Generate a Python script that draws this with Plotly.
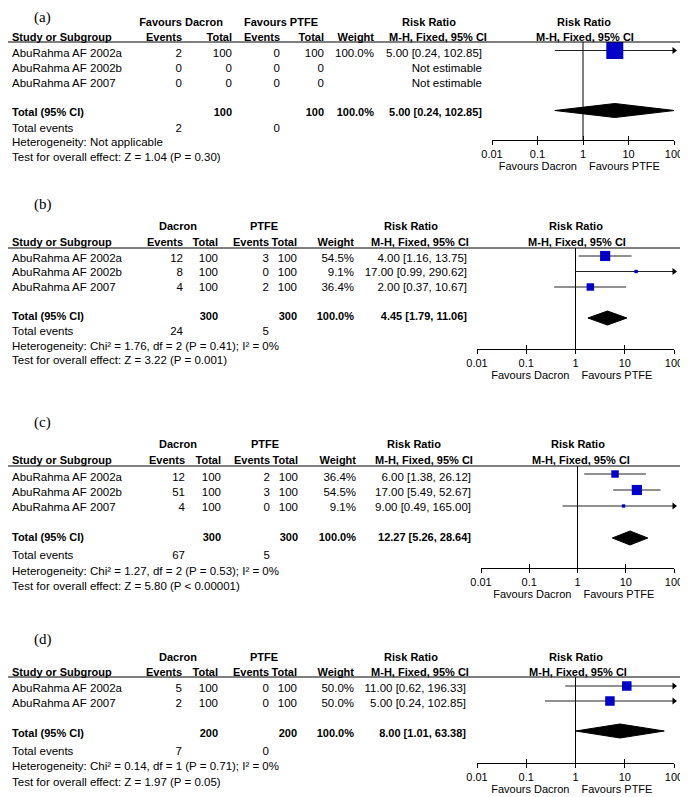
import plotly.graph_objects as go

W, H = 688, 797          # browser window
OFF = 8                  # default page (body) margin the figure sits inside
FW, FH = W - OFF, H - OFF
FONT = "Liberation Sans, Arial, sans-serif"
SERIF = "Liberation Serif, Times New Roman, serif"
FS = 11.5    # regular text
FSB = 11     # bold header text
FST = 11     # axis tick labels / favours labels

# ---------------- data ----------------
tick_vals = [0.01, 0.1, 1, 10, 100]
tick_text = ["0.01", "0.1", "1", "10", "100"]
favours_left = "Favours Dacron"
favours_right = "Favours PTFE"

# (a)
groups_a = ["Favours Dacron", "Favours PTFE"]
studies_a = ["AbuRahma AF 2002a", "AbuRahma AF 2002b", "AbuRahma AF 2007"]
dacron_events_a = [2, 0, 0]
dacron_total_a = [100, 0, 0]
ptfe_events_a = [0, 0, 0]
ptfe_total_a = [100, 0, 0]
weight_a = [100.0, None, None]
rr_a = [5.00, None, None]
rr_low_a = [0.24, None, None]
rr_high_a = [102.85, None, None]
totals_a = [100, 100]
total_events_a = [2, 0]
pooled_a = [5.00, 0.24, 102.85]
heterogeneity_a = "Heterogeneity: Not applicable"
overall_a = "Test for overall effect: Z = 1.04 (P = 0.30)"

# (b)
groups_b = ["Dacron", "PTFE"]
studies_b = ["AbuRahma AF 2002a", "AbuRahma AF 2002b", "AbuRahma AF 2007"]
dacron_events_b = [12, 8, 4]
dacron_total_b = [100, 100, 100]
ptfe_events_b = [3, 0, 2]
ptfe_total_b = [100, 100, 100]
weight_b = [54.5, 9.1, 36.4]
rr_b = [4.00, 17.00, 2.00]
rr_low_b = [1.16, 0.99, 0.37]
rr_high_b = [13.75, 290.62, 10.67]
totals_b = [300, 300]
total_events_b = [24, 5]
pooled_b = [4.45, 1.79, 11.06]
heterogeneity_b = "Heterogeneity: Chi² = 1.76, df = 2 (P = 0.41); I² = 0%"
overall_b = "Test for overall effect: Z = 3.22 (P = 0.001)"

# (c)
groups_c = ["Dacron", "PTFE"]
studies_c = ["AbuRahma AF 2002a", "AbuRahma AF 2002b", "AbuRahma AF 2007"]
dacron_events_c = [12, 51, 4]
dacron_total_c = [100, 100, 100]
ptfe_events_c = [2, 3, 0]
ptfe_total_c = [100, 100, 100]
weight_c = [36.4, 54.5, 9.1]
rr_c = [6.00, 17.00, 9.00]
rr_low_c = [1.38, 5.49, 0.49]
rr_high_c = [26.12, 52.67, 165.00]
totals_c = [300, 300]
total_events_c = [67, 5]
pooled_c = [12.27, 5.26, 28.64]
heterogeneity_c = "Heterogeneity: Chi² = 1.27, df = 2 (P = 0.53); I² = 0%"
overall_c = "Test for overall effect: Z = 5.80 (P < 0.00001)"

# (d)
groups_d = ["Dacron", "PTFE"]
studies_d = ["AbuRahma AF 2002a", "AbuRahma AF 2007"]
dacron_events_d = [5, 2]
dacron_total_d = [100, 100]
ptfe_events_d = [0, 0]
ptfe_total_d = [100, 100]
weight_d = [50.0, 50.0]
rr_d = [11.00, 5.00]
rr_low_d = [0.62, 0.24]
rr_high_d = [196.33, 102.85]
totals_d = [200, 200]
total_events_d = [7, 0]
pooled_d = [8.00, 1.01, 63.38]
heterogeneity_d = "Heterogeneity: Chi² = 0.14, df = 1 (P = 0.71); I² = 0%"
overall_d = "Test for overall effect: Z = 1.97 (P = 0.05)"

panels = [
    dict(label="(a)", groups=groups_a, studies=studies_a, ev1=dacron_events_a, n1=dacron_total_a,
         ev2=ptfe_events_a, n2=ptfe_total_a, weight=weight_a, rr=rr_a, lo=rr_low_a, hi=rr_high_a,
         totals=totals_a, tevents=total_events_a, pooled=pooled_a, het=heterogeneity_a, test=overall_a),
    dict(label="(b)", groups=groups_b, studies=studies_b, ev1=dacron_events_b, n1=dacron_total_b,
         ev2=ptfe_events_b, n2=ptfe_total_b, weight=weight_b, rr=rr_b, lo=rr_low_b, hi=rr_high_b,
         totals=totals_b, tevents=total_events_b, pooled=pooled_b, het=heterogeneity_b, test=overall_b),
    dict(label="(c)", groups=groups_c, studies=studies_c, ev1=dacron_events_c, n1=dacron_total_c,
         ev2=ptfe_events_c, n2=ptfe_total_c, weight=weight_c, rr=rr_c, lo=rr_low_c, hi=rr_high_c,
         totals=totals_c, tevents=total_events_c, pooled=pooled_c, het=heterogeneity_c, test=overall_c),
    dict(label="(d)", groups=groups_d, studies=studies_d, ev1=dacron_events_d, n1=dacron_total_d,
         ev2=ptfe_events_d, n2=ptfe_total_d, weight=weight_d, rr=rr_d, lo=rr_low_d, hi=rr_high_d,
         totals=totals_d, tevents=total_events_d, pooled=pooled_d, het=heterogeneity_d, test=overall_d),
]

# ---------------- layout geometry (window pixels) ----------------
geom = [
    dict(label_y=18, hdr1=23, hdr2=38, line=42, rows=[54, 69, 84], total=113, events=129, het=143, test=158,
         mark0=50.5, step=15.0, ax_x=(492, 674), ax_y=140,
         cols=[182, 232, 280, 324, 374, 482], grp=[181, 281], rr=429, mh=438, frr=584, fmh=585),
    dict(label_y=205, hdr1=227, hdr2=243, line=248, rows=[259, 273, 288], total=317, events=332, het=347, test=361,
         mark0=256, step=15.5, ax_x=(477, 674), ax_y=349,
         cols=[183, 218, 269, 297, 354, 467], grp=[178, 264], rr=411, mh=420, frr=576, fmh=577),
    dict(label_y=423, hdr1=445, hdr2=461, line=466, rows=[478, 493, 508], total=538, events=556, het=572, test=587,
         mark0=474, step=16.0, ax_x=(481, 674), ax_y=568,
         cols=[185, 221, 270, 298, 356, 471], grp=[178, 265], rr=414, mh=424, frr=578, fmh=581),
    dict(label_y=640, hdr1=658, hdr2=673, line=677, rows=[689, 704], total=734, events=752, het=767, test=783,
         mark0=686, step=15.0, ax_x=(477, 674), ax_y=763,
         cols=[182, 218, 269, 297, 354, 466], grp=[178, 264], rr=411, mh=420, frr=576, fmh=578),
]

LEFT_X = 12
LABEL_X = 34
SQUARE_COLOR = "#0000C8"
CI_COLOR = "#222222"

fig = go.Figure()
shapes = []
axes = {}
texts = {}   # (position, size, family) -> [xs, ys, strings]


def px(x):
    return (x - OFF) / FW


def py(y):
    return 1 - (y - OFF) / FH


POS = {"left": "middle right", "right": "middle left", "center": "middle center"}


def txt(x, y, s, anchor="left", bold=False, size=None, family=FONT):
    if size is None:
        size = FSB if bold else FS
    if bold:
        s = f"<b>{s}</b>"
    key = (POS[anchor], size, family)
    bucket = texts.setdefault(key, [[], [], []])
    bucket[0].append(x)
    bucket[1].append(y)
    bucket[2].append(s)


def fmt_est(r, lo, hi):
    return f"{r:.2f} [{lo:.2f}, {hi:.2f}]"


for k, (p, g) in enumerate(zip(panels, geom), start=1):
    c = g["cols"]
    # panel label
    txt(LABEL_X, g["label_y"], p["label"], size=15, family=SERIF)
    # header row 1
    txt(g["grp"][0], g["hdr1"], p["groups"][0], anchor="center", bold=True)
    txt(g["grp"][1], g["hdr1"], p["groups"][1], anchor="center", bold=True)
    txt(g["rr"], g["hdr1"], "Risk Ratio", anchor="center", bold=True)
    txt(g["frr"], g["hdr1"], "Risk Ratio", anchor="center", bold=True)
    # header row 2
    txt(LEFT_X, g["hdr2"], "Study or Subgroup", bold=True)
    txt(c[0], g["hdr2"], "Events", anchor="right", bold=True)
    txt(c[1], g["hdr2"], "Total", anchor="right", bold=True)
    txt(c[2], g["hdr2"], "Events", anchor="right", bold=True)
    txt(c[3], g["hdr2"], "Total", anchor="right", bold=True)
    txt(c[4], g["hdr2"], "Weight", anchor="right", bold=True)
    txt(g["mh"], g["hdr2"], "M-H, Fixed, 95% CI", anchor="center", bold=True)
    txt(g["fmh"], g["hdr2"], "M-H, Fixed, 95% CI", anchor="center", bold=True)
    shapes.append(dict(type="line", xref="paper", yref="paper", x0=px(4), x1=1,
                       y0=py(g["line"]), y1=py(g["line"]), line=dict(color="black", width=1)))

    # study rows
    for i, s in enumerate(p["studies"]):
        y = g["rows"][i]
        txt(LEFT_X, y, s)
        txt(c[0], y, str(p["ev1"][i]), anchor="right")
        txt(c[1], y, str(p["n1"][i]), anchor="right")
        txt(c[2], y, str(p["ev2"][i]), anchor="right")
        txt(c[3], y, str(p["n2"][i]), anchor="right")
        if p["weight"][i] is not None:
            txt(c[4], y, f"{p['weight'][i]:.1f}%", anchor="right")
            txt(c[5], y, fmt_est(p["rr"][i], p["lo"][i], p["hi"][i]), anchor="right")
        else:
            txt(c[5], y, "Not estimable", anchor="right")

    # total rows
    wsum = sum(w for w in p["weight"] if w is not None)
    txt(LEFT_X, g["total"], "Total (95% CI)", bold=True)
    txt(c[1], g["total"], str(p["totals"][0]), anchor="right", bold=True)
    txt(c[3], g["total"], str(p["totals"][1]), anchor="right", bold=True)
    txt(c[4], g["total"], f"{wsum:.1f}%", anchor="right", bold=True)
    txt(c[5], g["total"], fmt_est(*p["pooled"]), anchor="right", bold=True)
    txt(LEFT_X, g["events"], "Total events")
    txt(c[0], g["events"], str(p["tevents"][0]), anchor="right")
    txt(c[2], g["events"], str(p["tevents"][1]), anchor="right")
    txt(LEFT_X, g["het"], p["het"])
    txt(LEFT_X, g["test"], p["test"])

    # favours labels either side of the line of no effect
    x_one = (g["ax_x"][0] + g["ax_x"][1]) / 2
    txt(x_one - 6, g["ax_y"] + 27, favours_left, anchor="right", size=FST)
    txt(x_one + 6, g["ax_y"] + 27, favours_right, anchor="left", size=FST)

    # ---------- forest plot axes ----------
    xa, ya = f"x{k}", f"y{k}"
    xo = f"x{k + 4}"
    top_row = (g["line"] - g["mark0"]) / g["step"]
    bot_row = (g["ax_y"] - g["mark0"]) / g["step"]
    dom_x = [px(g["ax_x"][0]), px(g["ax_x"][1])]
    axes[f"xaxis{k}"] = dict(domain=dom_x, type="log", range=[-2, 2], anchor=ya, showline=True,
                             linecolor="black", linewidth=1, ticks="outside", ticklen=4, tickwidth=1,
                             tickcolor="black", tickvals=tick_vals, ticktext=tick_text,
                             tickfont=dict(size=FST, family=FONT, color="black"), automargin=False,
                             showgrid=False, zeroline=False, fixedrange=True)
    axes[f"xaxis{k + 4}"] = dict(domain=dom_x, type="log", range=[-2, 2], anchor=ya, overlaying=xa,
                                 showline=False, ticks="inside", ticklen=4, tickwidth=1, tickcolor="black",
                                 tickvals=tick_vals, showticklabels=False, showgrid=False, automargin=False,
                                 zeroline=False, fixedrange=True)
    axes[f"yaxis{k}"] = dict(domain=[py(g["ax_y"]), py(g["line"])], range=[bot_row, top_row],
                             visible=False, fixedrange=True, automargin=False)
    cap = 10 ** 2

    fig.add_trace(go.Scatter(x=[1], y=[0], xaxis=xo, yaxis=ya, mode="markers",
                             marker=dict(opacity=0), hoverinfo="skip", showlegend=False))
    # line of no effect
    fig.add_trace(go.Scatter(x=[1, 1], y=[top_row, bot_row], xaxis=xa, yaxis=ya, mode="lines",
                             line=dict(color="black", width=1), hoverinfo="skip", showlegend=False))
    for i in range(len(p["studies"])):
        if p["rr"][i] is None:
            continue
        lo, hi, r = p["lo"][i], p["hi"][i], p["rr"][i]
        fig.add_trace(go.Scatter(x=[lo, min(hi, cap)], y=[i, i], xaxis=xa, yaxis=ya, mode="lines",
                                 line=dict(color=CI_COLOR, width=1), hoverinfo="skip", showlegend=False))
        if hi > cap:
            fig.add_trace(go.Scatter(x=[cap], y=[i], xaxis=xa, yaxis=ya, mode="markers", cliponaxis=False,
                                     marker=dict(symbol="triangle-right", size=6, color="black"),
                                     hoverinfo="skip", showlegend=False))
        fig.add_trace(go.Scatter(x=[r], y=[i], xaxis=xa, yaxis=ya, mode="markers",
                                 marker=dict(symbol="square", size=2 + 15 * p["weight"][i] / 100,
                                             color=SQUARE_COLOR, line=dict(width=0)),
                                 hoverinfo="skip", showlegend=False))
    # pooled diamond
    tr = len(p["studies"]) + 1
    hh = 7 / g["step"]
    pr, plo, phi = p["pooled"]
    fig.add_trace(go.Scatter(x=[plo, pr, phi, pr, plo], y=[tr, tr - hh, tr, tr + hh, tr],
                             xaxis=xa, yaxis=ya, mode="lines", fill="toself", fillcolor="black",
                             line=dict(color="black", width=1), hoverinfo="skip", showlegend=False))

# ---------- text layer: a full-page canvas axis in window pixels ----------
axes["xaxis9"] = dict(domain=[0, 1], range=[OFF, OFF + FW], anchor="y9", visible=False,
                      fixedrange=True, automargin=False)
axes["yaxis9"] = dict(domain=[0, 1], range=[OFF + FH, OFF], anchor="x9", visible=False,
                      fixedrange=True, automargin=False)
for (pos, size, family), (xs, ys, ss) in texts.items():
    fig.add_trace(go.Scatter(x=xs, y=ys, text=ss, mode="text", textposition=pos, xaxis="x9", yaxis="y9",
                             textfont=dict(size=size, family=family, color="black"), cliponaxis=False,
                             hoverinfo="skip", showlegend=False))

fig.update_layout(width=FW, height=FH, autosize=False,
                  margin=dict(l=0, r=0, t=0, b=0, pad=0, autoexpand=False), paper_bgcolor="white",
                  plot_bgcolor="rgba(0,0,0,0)", showlegend=False,
                  shapes=shapes, font=dict(family=FONT, size=FS, color="black"), **axes)

fig.write_html("out.html")
